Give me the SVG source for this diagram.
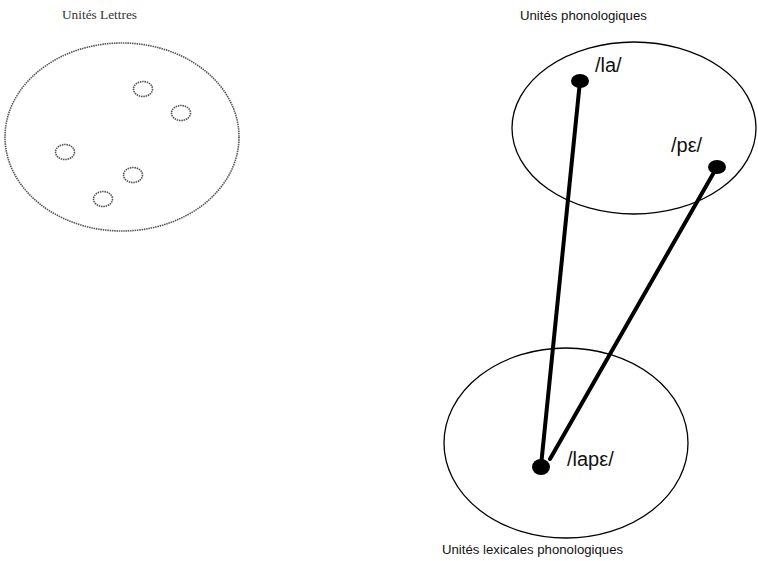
<svg xmlns="http://www.w3.org/2000/svg" width="758" height="561" viewBox="0 0 758 561">
<style>
.dot{fill:none;stroke:#555;stroke-width:1.6;stroke-dasharray:1.5 0.8}
.set{fill:none;stroke:#000;stroke-width:1.3}
.node{fill:#000}
.lbl{font-family:"Liberation Sans",Arial,sans-serif;font-size:13.2px;fill:#111}
.ph{font-family:"Liberation Sans",Arial,sans-serif;font-size:20px;fill:#111}
.serif{font-family:"Liberation Serif","Times New Roman",serif;font-size:13.3px;fill:#333}
.link{stroke:#000;stroke-width:4;stroke-linecap:round}
</style>
<rect width="758" height="561" fill="#fff"/>
<g id="lettres">
<text class="serif" x="62" y="19">Unités Lettres</text>
<ellipse class="dot" cx="122" cy="137" rx="117" ry="94"/>
<ellipse class="dot" cx="143" cy="89" rx="9.5" ry="7.5"/>
<ellipse class="dot" cx="181" cy="113" rx="9.5" ry="7.5"/>
<ellipse class="dot" cx="65" cy="152" rx="9.5" ry="7.5"/>
<ellipse class="dot" cx="133" cy="175" rx="9.5" ry="7.5"/>
<ellipse class="dot" cx="103" cy="199" rx="9.5" ry="7.5"/>
</g>
<g id="phonologiques">
<text class="lbl" x="520" y="20">Unités phonologiques</text>
<ellipse class="set" cx="634" cy="128" rx="122" ry="86"/>
</g>
<g id="lexicales">
<ellipse class="set" cx="566" cy="443" rx="122" ry="95"/>
<text class="lbl" x="442" y="554">Unités lexicales phonologiques</text>
</g>
<g id="connectors">
<line class="link" x1="580" y1="81" x2="541" y2="466"/>
<line class="link" x1="717" y1="167" x2="550" y2="459"/>
</g>
<g id="la">
<ellipse class="node" cx="580" cy="81" rx="9" ry="7"/>
<text class="ph" x="595" y="72">/la/</text>
</g>
<g id="pe">
<ellipse class="node" cx="717" cy="167" rx="9" ry="7"/>
<text class="ph" x="671" y="152">/pε/</text>
</g>
<g id="lape">
<ellipse class="node" cx="541" cy="467" rx="9" ry="8"/>
<text class="ph" x="567" y="466">/lapε/</text>
</g>
</svg>
